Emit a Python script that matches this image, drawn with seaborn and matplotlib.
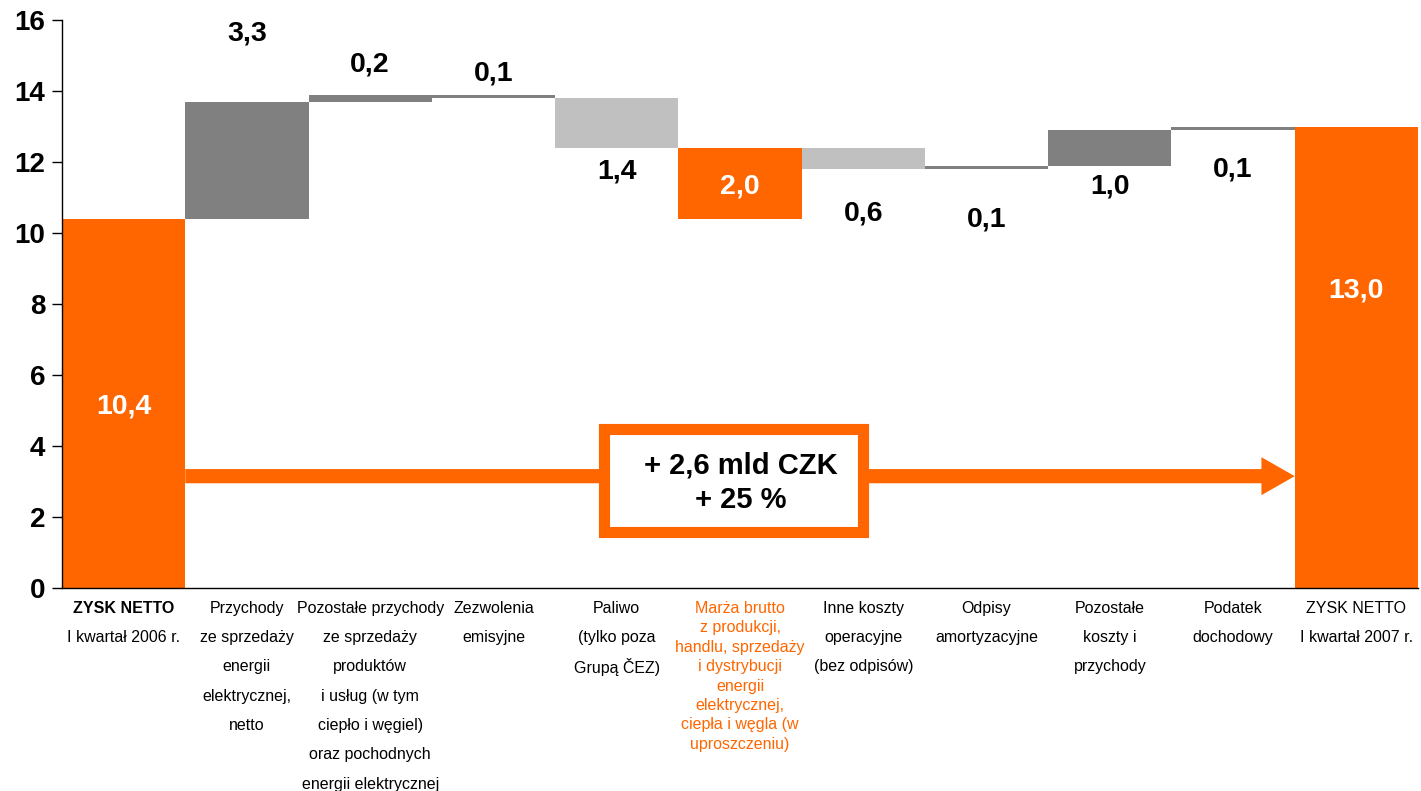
import matplotlib
matplotlib.use("Agg")
import matplotlib.pyplot as plt
import matplotlib.transforms as mtransforms
from matplotlib.patches import Rectangle
import seaborn as sns
import pandas as pd

# data (mld CZK)
categories = ["zysk_2006", "przychody_energia", "pozostale_przychody", "zezwolenia",
              "paliwo", "marza", "inne_koszty", "odpisy", "pozostale_koszty",
              "podatek", "zysk_2007"]
values = [10.4, 3.3, 0.2, -0.1, -1.4, 2.0, -0.6, 0.1, 1.0, 0.1, 13.0]
kinds = ["total", "delta", "delta", "delta", "delta", "margin",
         "delta", "delta", "delta", "delta", "total"]
tick_lines = [
    ["ZYSK NETTO", "I kwartał 2006 r."],
    ["Przychody", "ze sprzedaży", "energii", "elektrycznej,", "netto"],
    ["Pozostałe przychody", "ze sprzedaży", "produktów", "i usług (w tym",
     "ciepło i węgiel)", "oraz pochodnych", "energii elektrycznej"],
    ["Zezwolenia", "emisyjne"],
    ["Paliwo", "(tylko poza", "Grupą ČEZ)"],
    ["Marża brutto", "z produkcji,", "handlu, sprzedaży", "i dystrybucji", "energii",
     "elektrycznej,", "ciepła i węgla (w", "uproszczeniu)"],
    ["Inne koszty", "operacyjne", "(bez odpisów)"],
    ["Odpisy", "amortyzacyjne"],
    ["Pozostałe", "koszty i", "przychody"],
    ["Podatek", "dochodowy"],
    ["ZYSK NETTO", "I kwartał 2007 r."],
]

ORANGE = "#FF6600"
DARK = "#808080"
LIGHT = "#C0C0C0"
bar_colors = [ORANGE, DARK, DARK, DARK, LIGHT, ORANGE, LIGHT, DARK, DARK, DARK, ORANGE]
# where the value labels sit (y in data units)
label_y = [5.1, 15.63, 14.76, 14.5, 11.72, 11.32, 10.56, 10.39, 11.32, 11.8, 8.39]

# waterfall bottoms / heights
bottoms, heights = [], []
running = 0.0
for v, k in zip(values, kinds):
    if k == "total":
        bottoms.append(0.0)
        heights.append(v)
        running = v
    elif k == "margin":
        bottoms.append(running - v)
        heights.append(v)
    else:
        new = running + v
        bottoms.append(min(running, new))
        heights.append(abs(v))
        running = new

df = pd.DataFrame({"cat": categories, "height": heights})

plt.rcParams["font.family"] = ["Liberation Sans", "DejaVu Sans"]

fig = plt.figure(figsize=(14.21, 7.91), dpi=100)
ax = fig.add_axes([62 / 1421, 1 - 588 / 791, (1418 - 62) / 1421, (588 - 20) / 791])

sns.barplot(data=df, x="cat", y="height", hue="cat", order=categories,
            hue_order=categories, palette=bar_colors, saturation=1, width=1.0,
            errorbar=None, legend=False, linewidth=0, ax=ax)

for patch, b in zip(sorted(ax.patches, key=lambda p: p.get_x()), bottoms):
    patch.set_y(b)

ax.set_xlim(-0.5, len(categories) - 0.5)
ax.set_ylim(0, 16)
ax.set_yticks(range(0, 17, 2))
ax.set_xticks([])
ax.set_xlabel("")
ax.set_ylabel("")
ax.tick_params(axis="y", direction="out", length=7, width=1, pad=5, labelsize=20)
for t in ax.get_yticklabels():
    t.set_fontweight("bold")
for s in ["top", "right"]:
    ax.spines[s].set_visible(False)
for s in ["left", "bottom"]:
    ax.spines[s].set_linewidth(1)
    ax.spines[s].set_color("black")

# value labels
for i, v in enumerate(values):
    txt = f"{abs(v):.1f}".replace(".", ",")
    col = "white" if bar_colors[i] == ORANGE else "black"
    ax.text(i, label_y[i], txt, ha="center", va="center", fontsize=20.5,
            fontweight="bold", color=col, zorder=5)

# category labels under the axis
trans = mtransforms.blended_transform_factory(ax.transData, ax.transAxes)
for i, lines in enumerate(tick_lines):
    is_margin = kinds[i] == "margin"
    step = 14.0 if is_margin else 21.1
    col = ORANGE if is_margin else "black"
    for k, line in enumerate(lines):
        bold = (i == 0 and k == 0)
        ax.annotate(line, xy=(i, 0), xycoords=trans, xytext=(0, -(14.6 + k * step)),
                    textcoords="offset points", ha="center", va="center",
                    fontsize=11.5, color=col, fontweight="bold" if bold else "normal",
                    annotation_clip=False)

# change arrow with box
ax.arrow(0.5, 3.15, 9.0, 0, width=0.4, head_width=1.07, head_length=0.27,
         length_includes_head=True, fc=ORANGE, ec="none", zorder=3)
ax.add_patch(Rectangle((3.9, 1.59), 2.1, 2.9, fc="white", ec=ORANGE, lw=8, zorder=4))
diff = values[-1] - values[0]
pct = diff / values[0] * 100
ax.text(5.01, 3.46, f"+ {diff:.1f} mld CZK".replace(".", ","), ha="center", va="center",
        fontsize=21, fontweight="bold", zorder=5)
ax.text(5.01, 2.48, f"+ {pct:.0f} %", ha="center", va="center",
        fontsize=21, fontweight="bold", zorder=5)

fig.savefig("out.png", dpi=100)
